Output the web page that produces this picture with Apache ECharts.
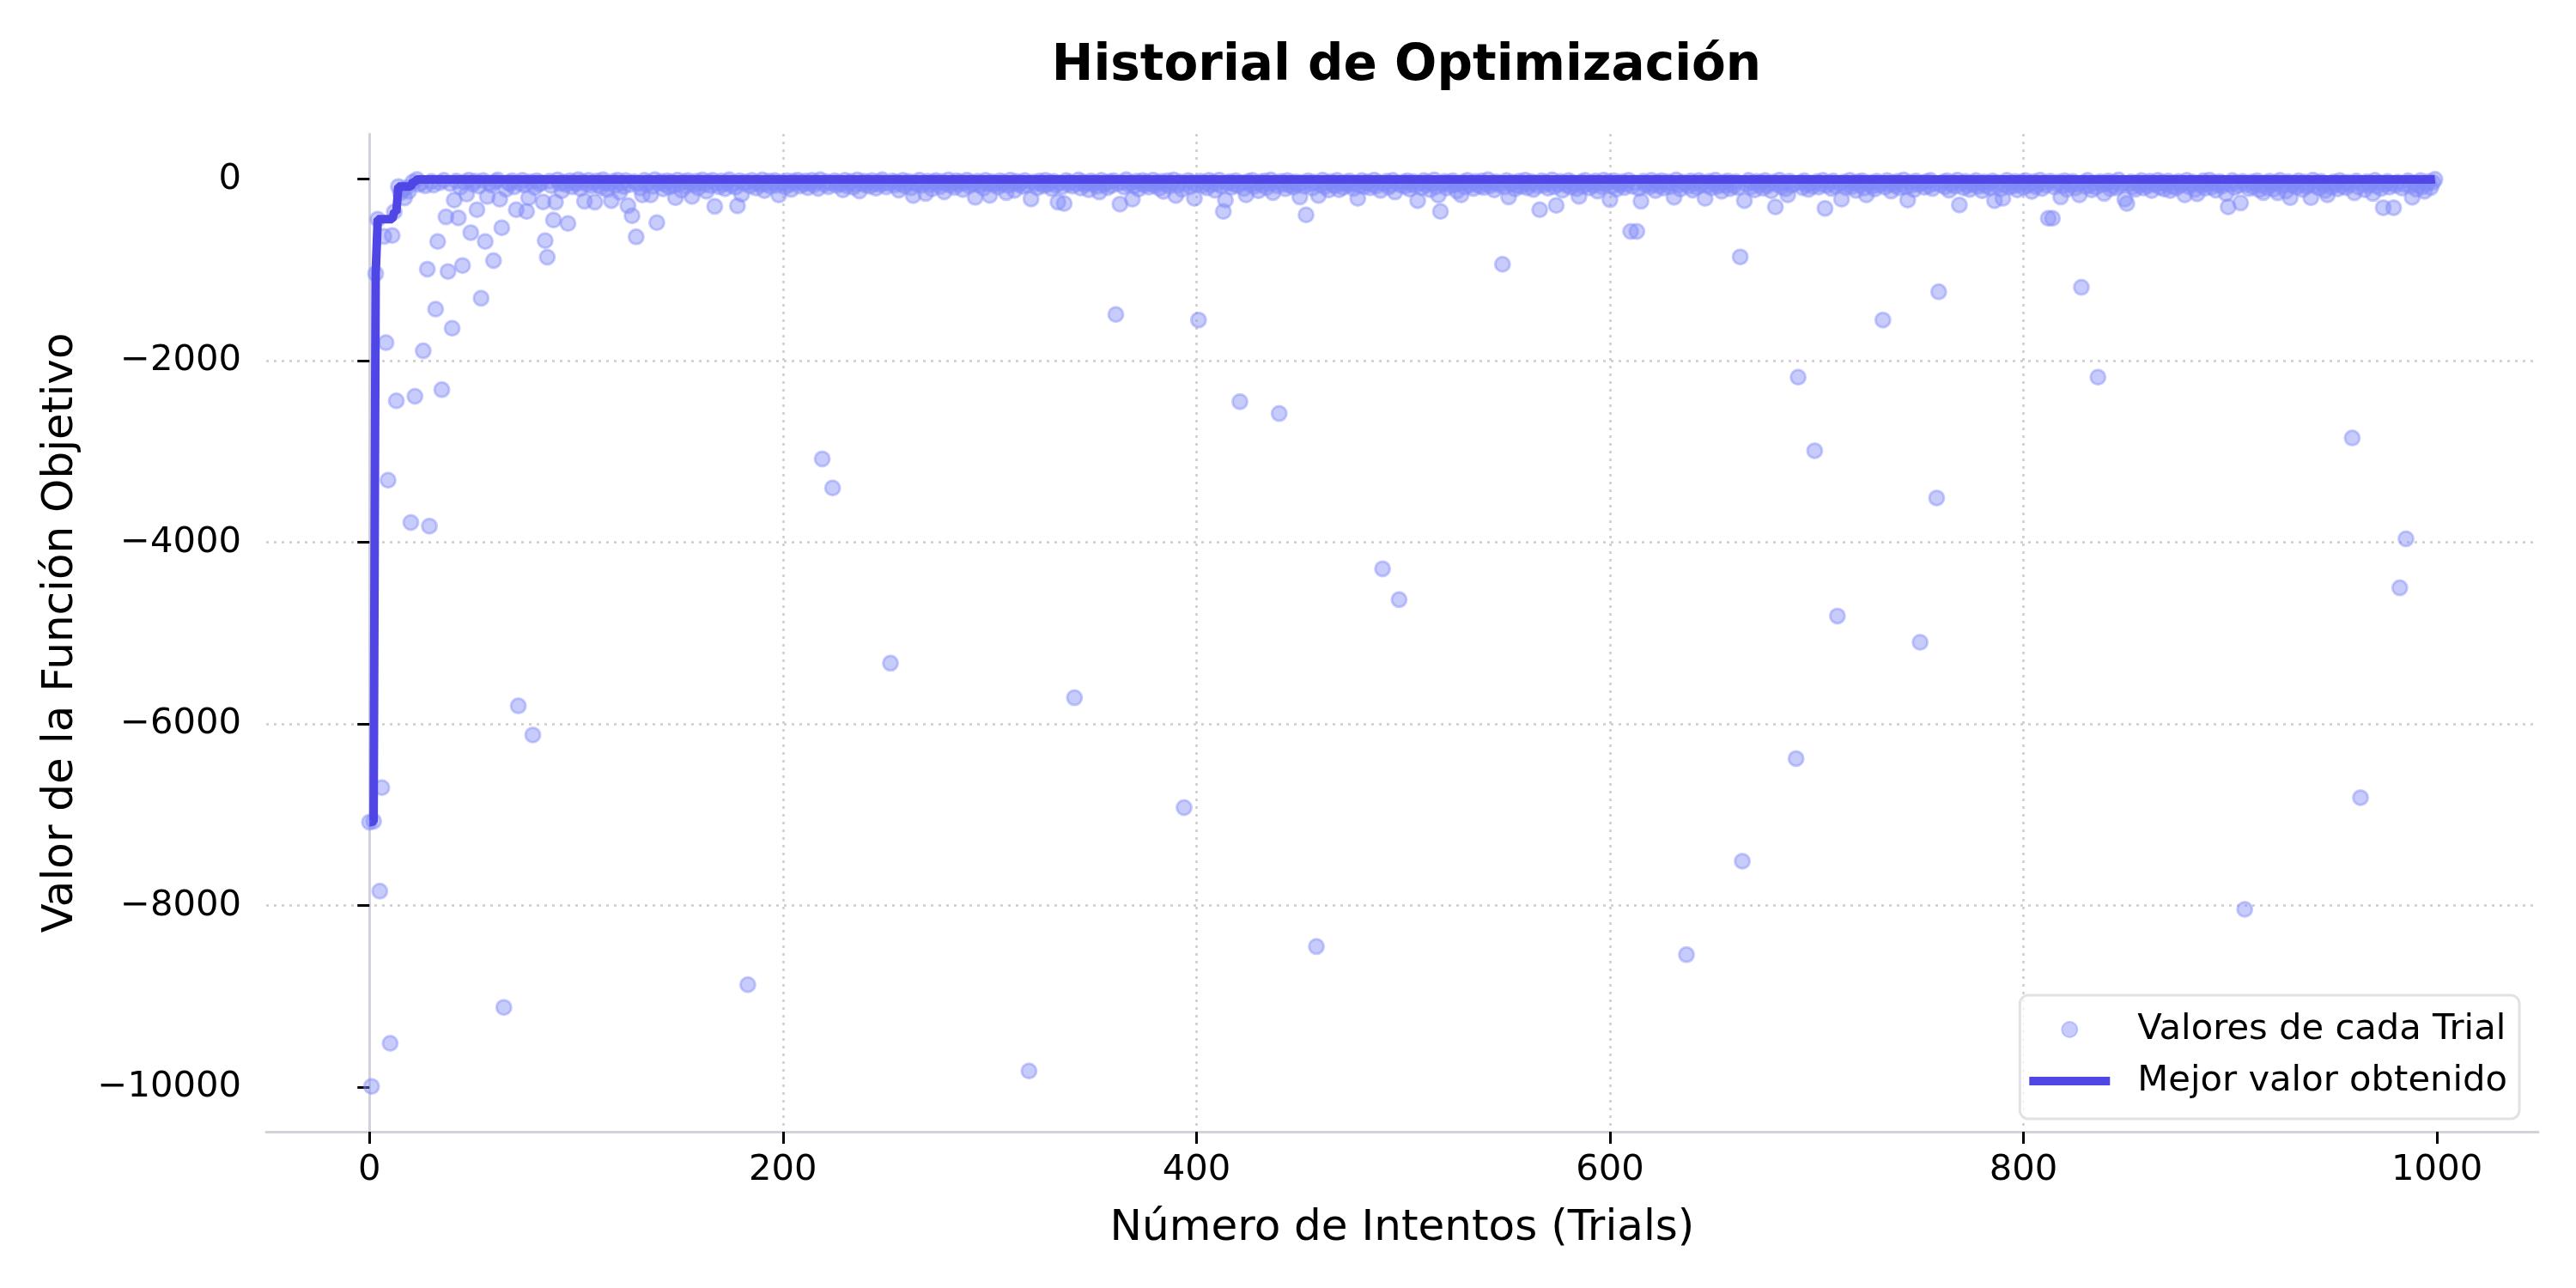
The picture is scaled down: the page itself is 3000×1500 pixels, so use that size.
<!DOCTYPE html>
<html>
<head>
<meta charset="utf-8">
<script src="https://cdn.jsdelivr.net/npm/echarts@6/dist/echarts.min.js"></script>
<style>
html,body{margin:0;padding:0;background:#fff;}
#chart{width:3000px;height:1500px;}
</style>
</head>
<body>
<div id="chart"></div>
<script>
// Objective value of each trial (index = trial number)
const trialValues = [
// 0-24
-7080,-9990,-7070,-1040,-440,-7840,-6700,-630,-1800,-3315,-9515,-620,-360,-2440,-80,-150,-118,-205,-96,-132,-3780,-30,-2390,-3,-58,
// 25-49
-41,-1890,-72,-990,-3820,-25,-64,-1431,-686,-38,-2318,-12,-415,-1016,-47,-1641,-230,-19,-425,-88,-950,-33,-164,-9,-588,
// 50-74
-54,-21,-336,-76,-1311,-14,-686,-190,-43,-67,-896,-28,-7,-220,-535,-9120,-110,-36,-52,-18,-84,-336,-5800,-45,-11,
// 75-99
-63,-355,-204,-29,-6120,-92,-16,-57,-39,-250,-676,-858,-22,-71,-450,-252,-8,-46,-128,-31,-60,-487,-17,-83,-35,
// 100-124
-49,-6,-102,-27,-242,-55,-13,-74,-40,-252,-20,-66,-91,-4,-37,-115,-52,-236,-24,-69,-10,-145,-44,-81,-15,
// 125-149
-292,-59,-402,-26,-635,-48,-97,-173,-11,-62,-34,-173,-78,-5,-478,-42,-23,-106,-56,-18,-87,-32,-68,-204,-9,
// 150-174
-51,-120,-29,-75,-14,-43,-189,-62,-21,-95,-37,-8,-58,-132,-26,-70,-12,-299,-47,-84,-19,-55,-104,-33,-6,
// 175-199
-66,-40,-89,-293,-17,-165,-50,-28,-8870,-73,-11,-44,-98,-35,-61,-7,-125,-53,-22,-80,-39,-14,-67,-174,-30,
// 200-224
-48,-86,-16,-58,-112,-25,-41,-9,-77,-34,-54,-20,-93,-46,-13,-64,-31,-102,-5,-3080,-57,-27,-82,-43,-3400,
// 225-249
-18,-69,-36,-52,-119,-11,-74,-40,-24,-90,-56,-8,-130,-45,-21,-63,-33,-79,-15,-49,-100,-28,-60,-6,-38,
// 250-274
-85,-47,-5330,-19,-66,-30,-120,-52,-12,-76,-41,-24,-95,-180,-35,-58,-9,-71,-44,-157,-22,-62,-107,-31,-14,
// 275-299
-53,-82,-26,-140,-48,-7,-68,-37,-91,-18,-57,-29,-114,-43,-10,-73,-34,-55,-200,-21,-65,-39,-99,-13,-50,
// 300-324
-178,-27,-61,-42,-86,-16,-54,-33,-148,-70,-9,-46,-123,-25,-59,-37,-81,-14,-64,-9820,-217,-30,-52,-94,-19,
// 325-349
-45,-72,-11,-58,-36,-103,-23,-67,-252,-40,-84,-267,-15,-55,-31,-76,-5710,-49,-8,-97,-28,-62,-43,-117,-20,
// 350-374
-53,-35,-79,-141,-12,-60,-41,-92,-26,-69,-17,-1490,-48,-274,-33,-86,-6,-57,-38,-220,-74,-22,-108,-45,-14,
// 375-399
-63,-30,-88,-51,-10,-71,-36,-99,-24,-135,-56,-18,-77,-42,-8,-179,-65,-29,-111,-6920,-47,-15,-83,-34,-211,
// 400-424
-58,-1550,-21,-70,-40,-96,-13,-61,-32,-122,-50,-9,-75,-355,-230,-44,-27,-89,-54,-16,-68,-2450,-37,-101,-173,
// 425-449
-23,-59,-11,-80,-46,-127,-31,-64,-19,-93,-52,-7,-148,-39,-73,-2580,-25,-56,-105,-14,-66,-43,-87,-28,-60,
// 450-474
-195,-35,-78,-393,-17,-51,-98,-30,-8450,-179,-62,-10,-84,-41,-118,-26,-57,-72,-13,-116,-47,-90,-33,-65,-20,
// 475-499
-54,-103,-38,-211,-69,-15,-82,-44,-28,-95,-58,-9,-76,-36,-124,-4290,-50,-22,-87,-61,-12,-141,-40,-4630,-67,
// 500-524
-31,-79,-18,-108,-53,-27,-70,-236,-42,-94,-14,-63,-34,-115,-48,-8,-83,-175,-355,-56,-25,-97,-39,-71,-16,
// 525-549
-60,-129,-45,-173,-30,-85,-11,-66,-41,-102,-23,-57,-78,-19,-91,-50,-6,-73,-37,-119,-28,-62,-44,-937,-86,
// 550-574
-14,-195,-52,-33,-106,-68,-21,-80,-46,-10,-94,-58,-27,-113,-40,-72,-336,-17,-64,-35,-99,-49,-8,-84,-289,
// 575-599
-55,-24,-121,-43,-69,-15,-88,-36,-61,-104,-189,-29,-75,-12,-50,-96,-38,-66,-20,-131,-47,-82,-9,-57,-32,
// 600-624
-226,-73,-18,-110,-45,-63,-26,-92,-54,-13,-575,-79,-39,-575,-101,-242,-22,-67,-48,-86,-11,-59,-125,-34,-74,
// 625-649
-16,-97,-52,-28,-83,-41,-198,-7,-65,-108,-31,-55,-8540,-76,-20,-120,-44,-89,-14,-62,-37,-211,-70,-25,-95,
// 650-674
-49,-10,-81,-58,-133,-33,-68,-19,-104,-46,-77,-27,-91,-855,-7510,-236,-53,-12,-86,-40,-118,-24,-64,-36,-99,
// 675-699
-15,-72,-47,-127,-30,-305,-58,-9,-84,-42,-106,-173,-21,-67,-50,-6380,-2180,-35,-93,-17,-61,-112,-44,-78,-2990,
// 700-724
-26,-88,-54,-13,-321,-69,-38,-101,-20,-75,-4810,-47,-220,-31,-92,-60,-11,-82,-43,-124,-28,-66,-16,-97,-173,
// 725-749
-51,-35,-79,-109,-22,-63,-45,-1550,-87,-14,-58,-131,-39,-71,-25,-96,-52,-8,-84,-230,-33,-67,-115,-19,-56,
// 750-774
-5100,-41,-90,-27,-74,-12,-103,-48,-3510,-1240,-62,-30,-85,-17,-122,-55,-36,-78,-10,-283,-46,-94,-24,-68,-113,
// 775-799
-39,-59,-15,-81,-50,-128,-29,-72,-43,-97,-20,-236,-64,-35,-107,-211,-53,-11,-88,-45,-76,-25,-119,-60,-32,
// 800-824
-92,-14,-70,-48,-134,-27,-83,-57,-9,-101,-40,-66,-431,-21,-431,-86,-52,-30,-195,-74,-16,-111,-44,-62,-23,
// 825-849
-98,-55,-173,-1190,-36,-80,-12,-67,-118,-41,-89,-2180,-26,-59,-157,-47,-19,-105,-71,-33,-93,-8,-63,-42,-220,
// 850-874
-267,-54,-28,-85,-112,-38,-69,-15,-97,-50,-73,-22,-126,-45,-61,-11,-87,-34,-108,-56,-19,-126,-79,-40,-94,
// 875-899
-25,-66,-48,-173,-13,-83,-57,-31,-114,-160,-43,-70,-18,-99,-52,-9,-88,-36,-121,-62,-27,-77,-45,-157,-305,
// 900-924
-53,-14,-92,-38,-71,-261,-24,-8040,-60,-103,-30,-84,-47,-16,-117,-65,-148,-40,-95,-21,-58,-109,-35,-150,-12,
// 925-949
-76,-49,-130,-26,-204,-67,-43,-90,-17,-61,-113,-32,-80,-54,-204,-10,-72,-39,-98,-23,-64,-125,-173,-46,-86,
// 950-974
-29,-57,-106,-15,-74,-41,-93,-34,-62,-2850,-150,-20,-85,-6810,-51,-116,-27,-69,-44,-157,-12,-79,-37,-101,-314,
// 975-999
-55,-24,-88,-46,-314,-66,-31,-4500,-97,-58,-3960,-18,-73,-198,-40,-110,-63,-14,-85,-132,-49,-27,-91,-36,-1
];

const xTickValues = [0, 200, 400, 600, 800, 1000];
const yTickValues = [-10000, -8000, -6000, -4000, -2000, 0];

const seriesNames = ['Valores de cada Trial', 'Mejor valor obtenido'];
const titleText = 'Historial de Optimización';
const xAxisTitle = 'Número de Intentos (Trials)';
const yAxisTitle = 'Valor de la Función Objetivo';

// derived data
const scatterData = trialValues.map((v, i) => [i, v]);
const bestData = [];
let best = -Infinity;
trialValues.forEach((v, i) => { best = Math.max(best, v); bestData.push([i, best]); });

const xSpan = (trialValues.length - 1);
const yMinData = Math.min(...trialValues), yMaxData = Math.max(...trialValues);
const ySpan = yMaxData - yMinData;

const FONT = 'DejaVu Sans';
const LINE_COLOR = '#4f46e5';
const chart = echarts.init(document.getElementById('chart'), null, {renderer: 'canvas'});
chart.setOption({
  animation: false,
  backgroundColor: '#ffffff',
  title: {
    text: titleText,
    left: 1633,
    top: 44,
    textAlign: 'center',
    textStyle: {fontFamily: FONT, fontSize: 58, fontWeight: 'bold', color: '#000'}
  },
  grid: {left: 310, right: 44, top: 156, bottom: 182, containLabel: false},
  legend: {
    orient: 'vertical',
    right: 66,
    top: 1159,
    data: [
      {name: seriesNames[0], icon: 'circle'},
      {name: seriesNames[1], icon: 'path://M0,0 L94,0 L94,10 L0,10 Z', itemStyle: {color: LINE_COLOR, opacity: 1}}
    ],
    symbolKeepAspect: true,
    itemWidth: 94,
    itemHeight: 18,
    itemGap: 18,
    padding: [19, 14, 23, 11],
    backgroundColor: 'rgba(255,255,255,0.8)',
    borderColor: '#e2e2e6',
    borderWidth: 3,
    borderRadius: 10,
    textStyle: {fontFamily: FONT, fontSize: 41.7, color: '#000', padding: [0, 0, 0, 27]}
  },
  xAxis: {
    type: 'value',
    min: -0.05 * xSpan,
    max: xSpan * 1.05,
    name: xAxisTitle,
    nameLocation: 'middle',
    nameGap: 88,
    nameTextStyle: {fontFamily: FONT, fontSize: 50, color: '#000'},
    axisLine: {show: true, onZero: false, lineStyle: {color: '#d2d3da', width: 3}},
    axisTick: {show: true, length: 14, customValues: xTickValues, lineStyle: {color: '#000', width: 3}},
    axisLabel: {customValues: xTickValues, margin: 24, fontFamily: FONT, fontSize: 41.7, color: '#000',
      formatter: v => String(v)},
    splitLine: {show: true, showMinLine: false, showMaxLine: false, lineStyle: {color: '#cccccc', width: 2.5, type: [3, 6]}}
  },
  yAxis: {
    type: 'value',
    min: yMinData - 0.05 * ySpan,
    max: yMaxData + 0.05 * ySpan,
    name: yAxisTitle,
    nameLocation: 'middle',
    nameRotate: 90,
    nameGap: 214,
    nameTextStyle: {fontFamily: FONT, fontSize: 50, color: '#000'},
    axisLine: {show: true, lineStyle: {color: '#d2d3da', width: 3}},
    axisTick: {show: true, length: 14, customValues: yTickValues, lineStyle: {color: '#000', width: 3}},
    axisLabel: {
      customValues: yTickValues, margin: 29, fontFamily: FONT, fontSize: 41.7, color: '#000',
      formatter: v => String(v).replace('-', '\u2212')
    },
    splitLine: {show: true, showMinLine: false, showMaxLine: false, lineStyle: {color: '#cccccc', width: 2.5, type: [3, 6]}}
  },
  series: [
    {
      name: seriesNames[0],
      type: 'scatter',
      data: scatterData,
      symbol: 'circle',
      symbolSize: 17,
      itemStyle: {color: 'rgba(129,140,248,0.55)', borderColor: 'rgba(129,140,248,0.55)', borderWidth: 3},
      emphasis: {disabled: true},
      z: 2
    },
    {
      name: seriesNames[1],
      type: 'line',
      data: bestData,
      showSymbol: false,
      symbol: 'none',
      lineStyle: {color: LINE_COLOR, width: 10},
      itemStyle: {color: LINE_COLOR},
      emphasis: {disabled: true},
      z: 3
    }
  ]
});
</script>
</body>
</html>
